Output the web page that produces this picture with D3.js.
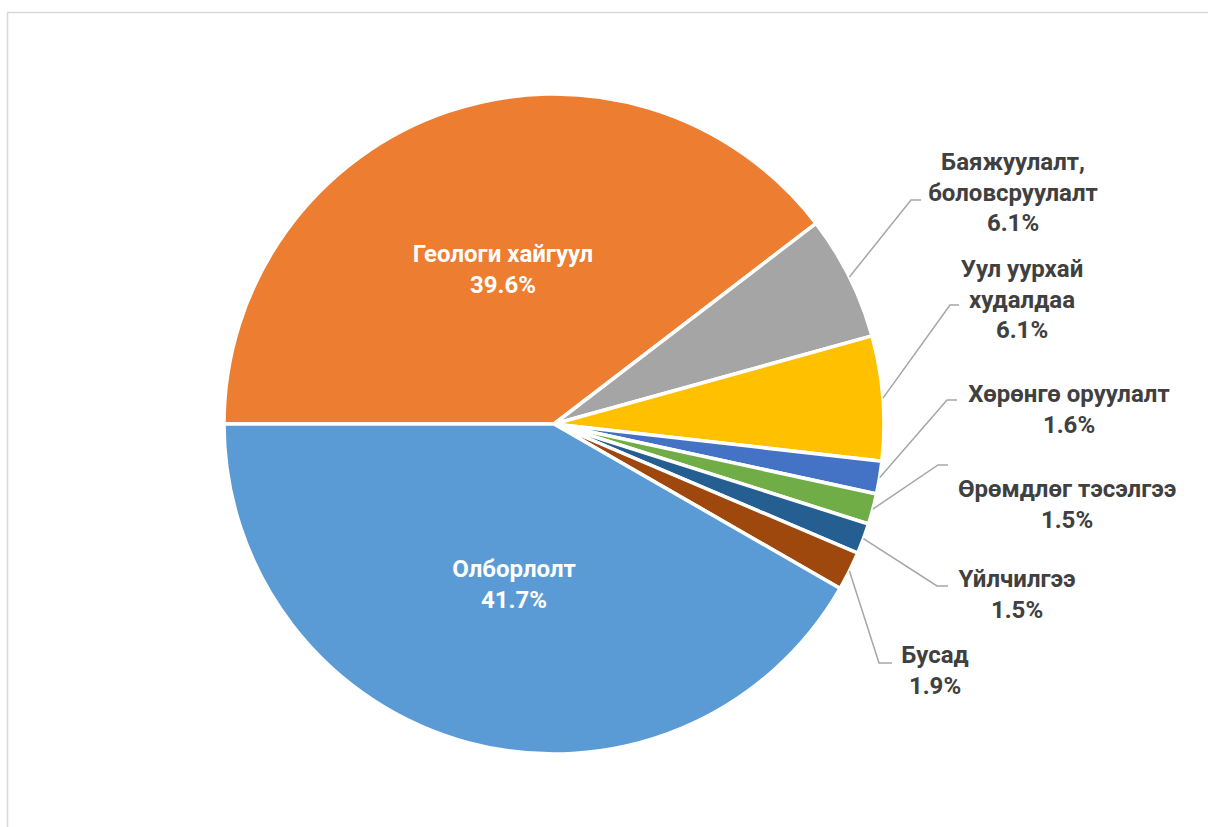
<!DOCTYPE html>
<html>
<head>
<meta charset="utf-8">
<script src="https://cdn.jsdelivr.net/npm/d3@7"></script>
<style>
  html, body { margin: 0; padding: 0; background: #fff; }
  svg { display: block; }
</style>
</head>
<body>
<svg id="chart" width="1208" height="827"></svg>
<script>
// ---- data ----
const categories = [
  "Геологи хайгуул",
  "Баяжуулалт, боловсруулалт",
  "Уул уурхай худалдаа",
  "Хөрөнгө оруулалт",
  "Өрөмдлөг тэсэлгээ",
  "Үйлчилгээ",
  "Бусад",
  "Олборлолт"
];
const values = [39.6, 6.1, 6.1, 1.6, 1.5, 1.5, 1.9, 41.7];
const labelLines = [
  ["Геологи хайгуул"],
  ["Баяжуулалт,", "боловсруулалт"],
  ["Уул уурхай", "худалдаа"],
  ["Хөрөнгө оруулалт"],
  ["Өрөмдлөг тэсэлгээ"],
  ["Үйлчилгээ"],
  ["Бусад"],
  ["Олборлолт"]
];
const colors = ["#ED7D31", "#A5A5A5", "#FFC000", "#4472C4", "#70AD47", "#255E91", "#9E480E", "#5B9BD5"];

// ---- layout (label placement, not data) ----
const cx = 554, cy = 424, R = 330;
const labelLayout = [
  { inside: true, x: 503, y: 262 },
  { x: 1013, y: 170, elbow: [911, 200], tail: [921, 200] },
  { x: 1022, y: 277, elbow: [950, 305], tail: [959, 305] },
  { x: 1069, y: 402, elbow: [947, 400], tail: [957, 400] },
  { x: 1067, y: 497, elbow: [938, 465], tail: [948, 465] },
  { x: 1017, y: 587, elbow: [937, 586], tail: [948, 586] },
  { x: 935, y: 663, elbow: [879, 663], tail: [892, 663] },
  { inside: true, x: 514, y: 577 }
];

const svg = d3.select("#chart");

// chart area border
svg.append("rect")
  .attr("x", 7.5).attr("y", 12.5)
  .attr("width", 1300).attr("height", 900)
  .attr("fill", "none")
  .attr("stroke", "#d9d9d9")
  .attr("stroke-width", 1.5);

const data = categories.map((c, i) => ({ name: c, value: values[i], lines: labelLines[i], color: colors[i], layout: labelLayout[i] }));

const pie = d3.pie().value(d => d.value).sort(null)
  .startAngle(-Math.PI / 2).endAngle(1.5 * Math.PI);
const arcs = pie(data);
const arc = d3.arc().innerRadius(0).outerRadius(R);

const g = svg.append("g").attr("transform", `translate(${cx},${cy})`);

g.selectAll("path.slice")
  .data(arcs)
  .join("path")
  .attr("class", "slice")
  .attr("d", arc)
  .attr("fill", d => d.data.color)
  .attr("stroke", "#fff")
  .attr("stroke-width", 3.5)
  .attr("stroke-linejoin", "miter");

// leader lines
arcs.forEach(a => {
  const L = a.data.layout;
  if (L.inside) return;
  const mid = (a.startAngle + a.endAngle) / 2;
  const sx = cx + R * Math.sin(mid), sy = cy - R * Math.cos(mid);
  svg.append("polyline")
    .attr("points", `${sx},${sy} ${L.elbow[0]},${L.elbow[1]} ${L.tail[0]},${L.tail[1]}`)
    .attr("fill", "none")
    .attr("stroke", "#a6a6a6")
    .attr("stroke-width", 1.5);
});

// labels
const fmt = d3.format(".1f");
arcs.forEach(a => {
  const L = a.data.layout;
  const lines = a.data.lines.concat([fmt(a.data.value) + "%"]);
  const t = svg.append("text")
    .attr("text-anchor", "middle")
    .attr("font-family", "Roboto, 'Noto Sans', sans-serif")
    .attr("font-weight", "bold")
    .attr("font-size", 24)
    .attr("fill", L.inside ? "#ffffff" : "#404040");
  lines.forEach((ln, i) => {
    t.append("tspan")
      .attr("x", L.x)
      .attr("y", L.y + i * 30.5)
      .text(ln);
  });
});
</script>
</body>
</html>
